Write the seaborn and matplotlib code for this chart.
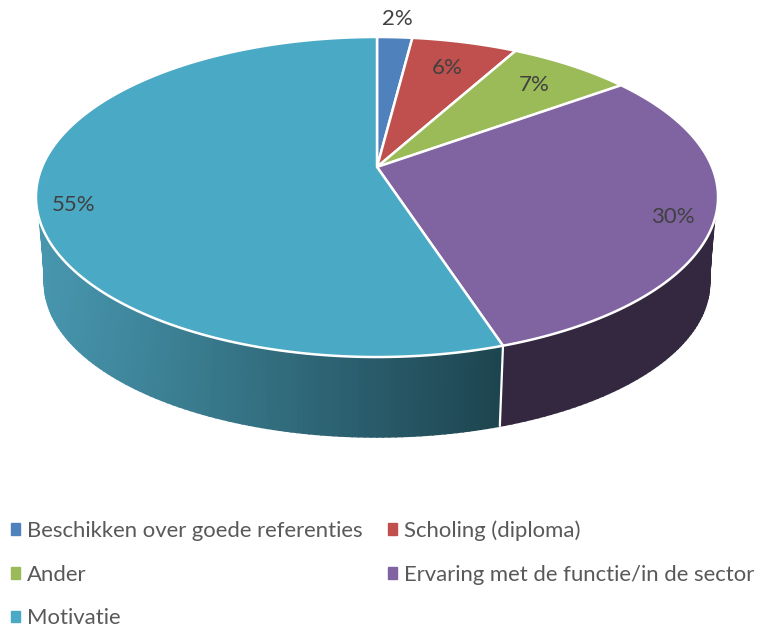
import numpy as np
import matplotlib
matplotlib.use("Agg")
import matplotlib.pyplot as plt
import seaborn as sns
from matplotlib.patches import Patch

categories = ['Beschikken over goede referenties', 'Scholing (diploma)', 'Ander',
              'Ervaring met de functie/in de sector', 'Motivatie']
values = [2, 6, 7, 30, 55]
colors = ['#4f81bd', '#c0504d', '#9bbb59', '#8064a2', '#4aa9c4']
label_r = [1.17, 0.77, 0.79, 0.887, 0.898]
label_nudge = [0, 0, 0, 2, -6]

sns.set_theme(style='white')
plt.rcParams['font.family'] = ['Lato', 'DejaVu Sans']

# pie tilted in perspective, result is in pixels of the picture
cx, cy = 377, 167
R, a, c = 335, 154.4, 0.1875


def top(t, r=1.0):
    t = np.radians(t)
    u, v = r * np.sin(t), r * np.cos(t)
    return cx + R * u / (1 + c * v), cy - a * v / (1 + c * v)


def bottom(t):
    t = np.radians(t)
    u, v = np.sin(t), np.cos(t)
    return cx + 0.975 * R * u / (1 + c * v), cy + 87 - 0.9625 * a * v / (1 + c * v)


fig = plt.figure(figsize=(7.57, 6.27), dpi=100)
ax = fig.add_axes([0, 0, 1, 1])
ax.set_xlim(0, 757)
ax.set_ylim(627, 0)
ax.axis('off')

edges = np.cumsum([0] + values) * 3.6
wall_start, wall_end = 108.8, 251.2
split = edges[4]

# side wall, cut in strips for the shading
strips = np.linspace(wall_start, wall_end, 161)
strips = np.unique(np.append(strips, split))
shade = sns.blend_palette(['#1d444f', '#4796ae'], 200)
for t0, t1 in zip(strips[:-1], strips[1:]):
    b0, b1 = np.interp([t0, t1], [wall_start, split, 198, wall_end], [98, split, 198, 262])
    tt = np.linspace(t0, t1, 4)
    bb = np.linspace(b0, b1, 4)
    xs = np.r_[top(tt)[0], bottom(bb)[0][::-1]]
    ys = np.r_[top(tt)[1], bottom(bb)[1][::-1]]
    if t1 <= split:
        col = '#33283f'
    else:
        # shading follows the horizontal position, not the angle
        f = (top(split)[0] - xs.mean()) / (top(split)[0] - 45)
        col = shade[int(np.clip(f, 0, 1) * 199)]
    ax.fill(xs, ys, color=col, lw=1.2, zorder=1)

x0, y0 = top(split)
x1, y1 = bottom(split)
ax.plot([x0, x1], [y0, y1], color='white', lw=1.6, zorder=2)

# top face
for i, val in enumerate(values):
    tt = np.linspace(edges[i], edges[i + 1], 150)
    xs, ys = top(tt)
    ax.fill(np.r_[cx, xs], np.r_[cy, ys], facecolor=colors[i], edgecolor='white', lw=1.8,
            joinstyle='round', zorder=3)
    mid = (edges[i] + edges[i + 1]) / 2 + label_nudge[i]
    lx, ly = top(mid, label_r[i])
    ax.text(lx, ly, '%d%%' % val, ha='center', va='center', fontsize=16, color='#404040', zorder=4)

# legend goes row by row in the original
order = [0, 2, 4, 1, 3]
handles = [Patch(color=colors[i], label=categories[i]) for i in order]
ax.legend(handles=handles, ncol=2, frameon=False, loc='lower left', bbox_to_anchor=(-0.005, -0.025),
          fontsize=15.9, labelcolor='#595959', handlelength=0.42, handleheight=0.42,
          handletextpad=0.33, columnspacing=1.13, labelspacing=1.07, borderpad=0.35, borderaxespad=0.3)

fig.savefig('out.png', dpi=100)
